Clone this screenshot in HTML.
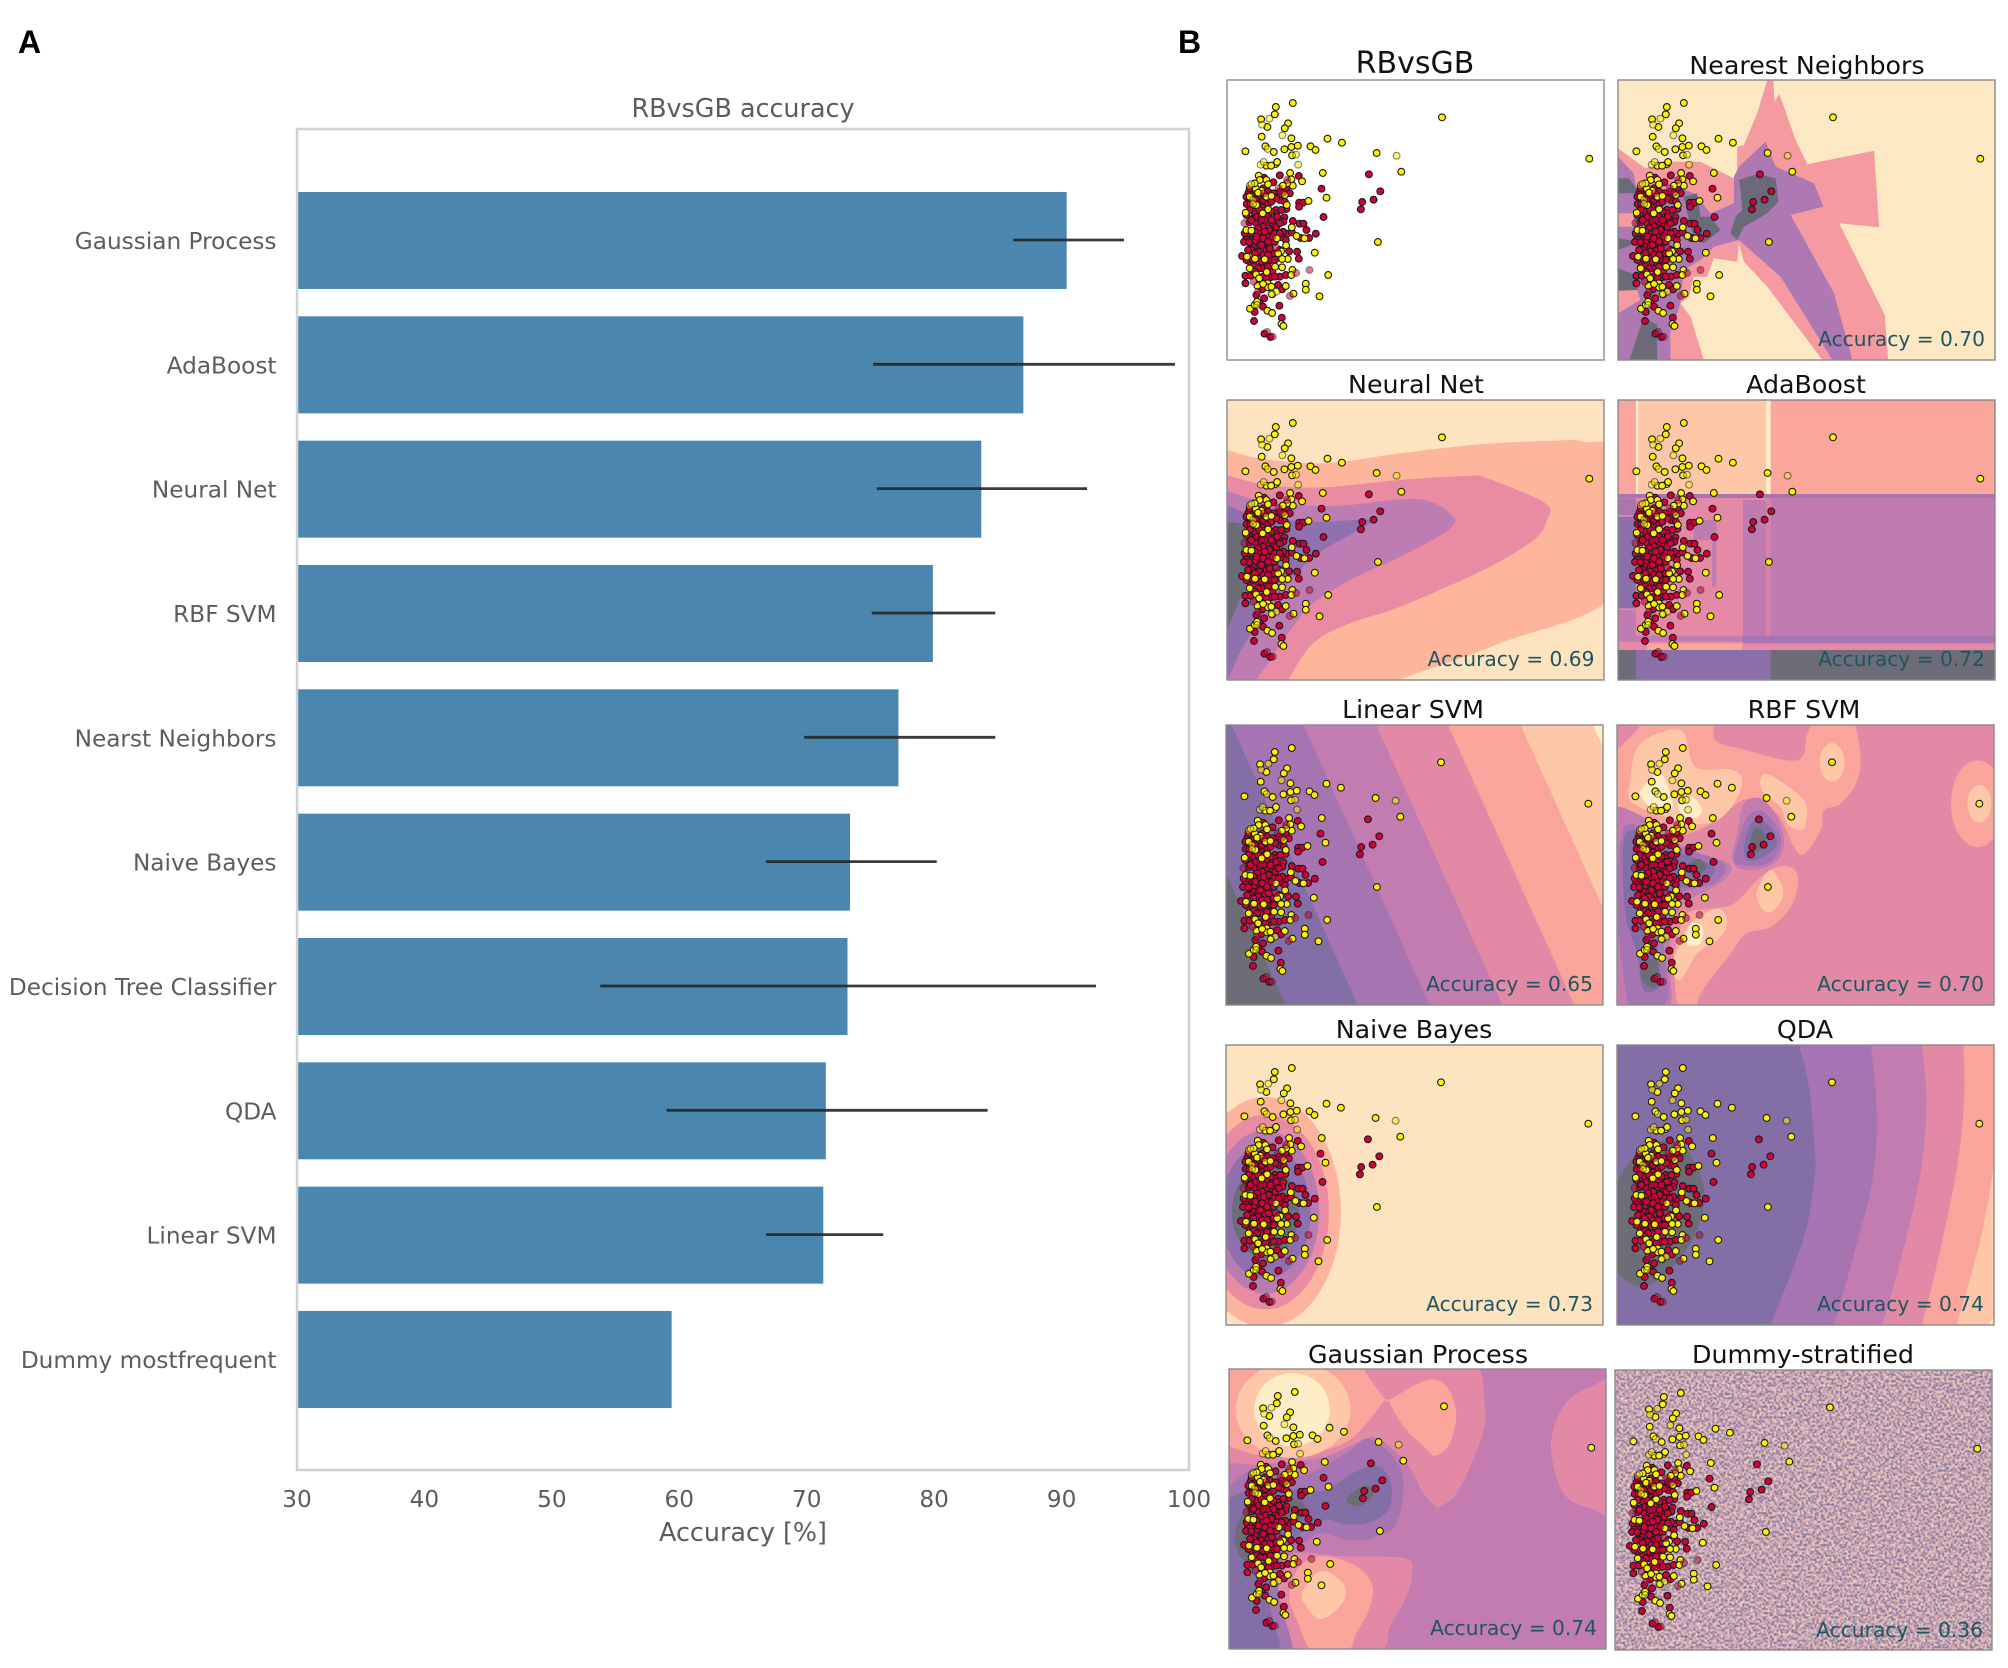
<!DOCTYPE html>
<html lang="en">
<head>
<meta charset="utf-8">
<title>RBvsGB accuracy</title>
<style>
html,body{margin:0;padding:0;background:#fff;width:2008px;height:1668px;overflow:hidden}
svg{display:block}
text{font-family:"DejaVu Sans","Liberation Sans",sans-serif}
.panel-title{font-size:25.3px;fill:#111;text-anchor:middle}
.acc{font-size:20.2px;fill:#1f5560;text-anchor:end}
.letter{font-family:"Liberation Sans",sans-serif;font-weight:bold;font-size:32px;fill:#000}
</style>
</head>
<body>
<svg xmlns="http://www.w3.org/2000/svg" width="2008" height="1668" viewBox="0 0 2008 1668">
  <defs>
    <filter id="noise" x="0" y="0" width="100%" height="100%" color-interpolation-filters="sRGB">
      <feTurbulence type="fractalNoise" baseFrequency="0.47" numOctaves="2" seed="7"/>
      <feColorMatrix values="2.6 0 0 0 -0.8  2.6 0 0 0 -0.8  2.6 0 0 0 -0.8  0 0 0 0 1"/>
      <feComponentTransfer>
        <feFuncR type="discrete" tableValues="0.46 0.82 0.96"/>
        <feFuncG type="discrete" tableValues="0.44 0.64 0.84"/>
        <feFuncB type="discrete" tableValues="0.60 0.72 0.75"/>
      </feComponentTransfer>
      <feGaussianBlur stdDeviation="0.5"/>
    </filter>
  </defs>
  <rect width="2008" height="1668" fill="#fff"/>
  <text class="letter" x="18" y="53">A</text>
  <text class="letter" x="1178" y="53">B</text>
  <g id="bar-chart">
    <text x="743" y="117" font-size="25.4" fill="#5c5c5c" text-anchor="middle">RBvsGB accuracy</text>
    <text x="743" y="1541" font-size="25.4" fill="#5c5c5c" text-anchor="middle">Accuracy [%]</text>
  </g>
  <g id="panels"></g>
  <g id="panel-text">
    <text class="panel-title" style="font-size:30px" x="1415" y="73">RBvsGB</text>
    <text class="panel-title" x="1807" y="74">Nearest Neighbors</text>
    <text class="panel-title" x="1416" y="393">Neural Net</text>
    <text class="panel-title" x="1806" y="393">AdaBoost</text>
    <text class="panel-title" x="1413" y="718">Linear SVM</text>
    <text class="panel-title" x="1804" y="718">RBF SVM</text>
    <text class="panel-title" x="1414" y="1038">Naive Bayes</text>
    <text class="panel-title" x="1805" y="1038">QDA</text>
    <text class="panel-title" x="1418" y="1363">Gaussian Process</text>
    <text class="panel-title" x="1803" y="1363">Dummy-stratified</text>
    <text class="acc" x="1985" y="346">Accuracy = 0.70</text>
    <text class="acc" x="1594.5" y="666">Accuracy = 0.69</text>
    <text class="acc" x="1985" y="666">Accuracy = 0.72</text>
    <text class="acc" x="1593" y="991">Accuracy = 0.65</text>
    <text class="acc" x="1984" y="991">Accuracy = 0.70</text>
    <text class="acc" x="1593" y="1311">Accuracy = 0.73</text>
    <text class="acc" x="1984" y="1311">Accuracy = 0.74</text>
    <text class="acc" x="1597" y="1635">Accuracy = 0.74</text>
    <text class="acc" x="1983" y="1637">Accuracy = 0.36</text>
  </g>
</svg>
<script>
// ---------- bar chart data ----------
const categories = ["Gaussian Process","AdaBoost","Neural Net","RBF SVM","Nearst Neighbors","Naive Bayes","Decision Tree Classifier","QDA","Linear SVM","Dummy mostfrequent"];
const accuracy = [90.4,87.0,83.7,79.9,77.2,73.4,73.2,71.5,71.3,59.4];
const errLow = [86.2,75.2,75.5,75.1,69.8,66.8,53.8,59.0,66.8,null];
const errHigh = [94.9,98.9,92.0,84.8,84.8,80.2,92.7,84.2,76.0,null];
const xTicks = [30,40,50,60,70,80,90,100];

// ---------- scatter data (feature units) ----------
const yellowPts = [[279,249],[228,261],[225,283],[184,298],[265,310],[203,321],[255,325],[186,350],[275,355],[383,356],[426,368],[197,379],[275,381],[294,377],[332,379],[347,390],[254,388],[222,396],[137,394],[277,406],[726,292],[1167,416],[530,399],[604,455],[369,459],[271,459],[380,533],[326,543],[228,432],[232,426],[200,437],[214,437],[307,484],[275,478],[279,497],[262,490],[249,497],[177,467],[180,480],[200,480],[168,505],[205,493],[261,555],[205,568],[138,578],[276,622],[534,666],[345,698],[385,765],[318,791],[318,809],[359,829],[281,821],[247,742],[264,717],[247,717],[290,648],[314,655],[259,676],[244,694],[231,655],[140,630],[155,632],[166,716],[142,710],[195,718],[226,740],[278,750],[275,765],[201,756],[258,798],[169,763],[178,775],[173,797],[204,790],[205,802],[217,823],[151,866],[165,855],[172,845],[203,872],[217,879],[245,912],[251,918],[189,580],[170,555],[200,530],[165,490],[185,512],[150,530],[215,528],[255,525],[175,518],[235,700],[150,745],[215,800],[190,792]];
const redPts = [[240,466],[297,468],[221,487],[193,473],[365,506],[507,463],[541,514],[521,539],[487,546],[483,568],[371,591],[298,548],[310,548],[298,560],[146,518],[158,525],[175,528],[190,505],[205,515],[222,520],[260,505],[141,552],[152,552],[164,575],[175,545],[190,540],[205,553],[215,545],[240,540],[228,570],[228,580],[190,562],[260,567],[160,595],[149,607],[172,590],[185,585],[205,585],[232,590],[254,592],[251,605],[279,603],[299,611],[311,611],[320,630],[348,641],[328,654],[302,654],[262,641],[276,637],[246,652],[258,660],[170,610],[185,610],[205,607],[222,611],[190,620],[210,630],[175,625],[230,620],[185,640],[200,648],[180,655],[165,665],[150,650],[140,654],[133,666],[195,670],[214,669],[220,650],[175,680],[160,680],[155,690],[178,695],[200,690],[190,705],[127,708],[150,725],[163,735],[175,715],[185,725],[215,720],[200,730],[186,745],[218,755],[212,772],[137,767],[153,767],[137,790],[240,770],[258,765],[235,795],[247,808],[292,695],[297,716],[268,694],[187,808],[193,835],[180,850],[190,860],[239,857],[165,876],[163,903],[246,893],[194,941],[212,951],[165,510],[140,530],[168,540],[198,530],[230,535],[150,570],[178,570],[198,570],[215,575],[140,585],[155,600],[195,600],[215,600],[165,635],[195,635],[225,640],[155,640],[170,650],[190,655],[205,665],[225,665],[150,668],[185,675],[210,685],[145,690],[165,700],[205,705],[225,700],[140,720],[160,720],[205,740],[175,745],[165,755],[190,770],[225,770],[200,775],[180,790],[225,720],[240,690],[250,635],[240,610],[245,570],[255,545],[150,505],[240,515],[270,520],[240,640],[170,825],[145,640],[135,640]];
const fadedYellowPts = [[209,296],[187,314],[248,346],[204,387],[289,404],[295,434],[183,434],[192,426],[590,407],[150,497],[155,492],[160,540],[160,552],[230,815],[215,822],[172,855]];
const fadedRedPts = [[134,609],[262,480],[237,505],[250,518],[329,750],[289,759],[162,785],[175,815],[270,828],[202,936],[219,950],[148,665],[218,650],[232,685],[185,600],[192,520]];

// ---------- decision surface contours (feature units, one origin per panel) ----------
const knnPink = [[[53,385],[135,445],[210,425],[300,425],[410,480],[410,380],[430,375],[470,280],[500,180],[518,182],[522,245],[536,222],[585,360],[620,433],[820,392],[835,622],[715,610],[852,885],[862,1020],[665,1020],[500,800],[430,725],[415,670],[410,725],[340,715],[320,770],[280,770],[265,830],[240,850],[270,890],[310,1020],[53,1020]]];
const knnPurple = [[[53,410],[100,460],[110,520],[110,570],[230,500],[280,520],[330,580],[400,550],[400,470],[415,440],[495,365],[525,440],[640,490],[668,560],[570,585],[700,820],[755,1020],[695,1020],[540,770],[415,660],[340,680],[300,720],[250,750],[240,850],[210,940],[210,1020],[53,1020],[53,880],[120,840],[110,810],[53,800],[53,620],[100,620],[100,580],[53,580]]];
const knnGray = [[[415,480],[470,462],[525,475],[533,545],[500,580],[430,620],[410,660],[390,640],[405,590],[425,570],[420,510]],[[53,475],[85,475],[120,520],[53,520]],[[250,530],[290,520],[300,590],[330,590],[360,630],[310,670],[280,650],[265,600]],[[53,655],[120,665],[53,690]],[[53,745],[120,770],[110,810],[53,812]],[[130,890],[170,915],[170,1020],[87,1020],[110,950]]];

const netLevel1 = [[40,235],[82,240],[180,265],[370,280],[600,250],[850,222],[1060,212],[1150,215],[1250,265],[1250,660],[900,820],[595,930],[500,975],[40,975]];
const netLevel2 = [[40,310],[82,316],[200,345],[370,352],[600,330],[800,318],[860,325],[1035,400],[1040,450],[1000,510],[850,600],[600,710],[450,760],[340,820],[265,930],[230,985],[40,985]];
const netLevel3 = [[40,352],[82,363],[200,395],[400,408],[650,387],[755,435],[745,480],[600,560],[450,630],[340,700],[280,770],[170,930],[130,985],[40,985]];
const netLevel4 = [[40,392],[82,405],[180,440],[350,455],[510,450],[460,490],[370,540],[300,600],[200,720],[130,830],[82,930],[40,1000]];
const netLevel5 = [[40,450],[82,455],[135,465],[250,520],[250,560],[150,640],[82,780],[40,860]];

const adaPeach = [[110,90,510,372]];
const adaCream = [[107,90,113,372],[497,90,510,372]];
const adaPink = [[53,372,1183,840]];
const adaMauve = [[510,372,1183,800],[427,390,497,800],[280,450,345,510],[335,460,348,650],[53,720,107,797],[53,797,427,815]];
const adaPurpleLight = [[53,385,107,435],[53,372,1183,384],[427,797,1183,820]];
const adaPurpleDark = [[53,440,107,715],[107,840,510,930]];
const adaPinkStripe = [[497,384,510,797]];
const adaSalmon = [[140,820,425,840]];
const adaGray = [[53,840,107,930],[510,840,1183,930]];

const linearTopCrossings = [-122,95,310,528,743,960,1177];
const linearBottomShift = [378];

const rbfSalmon = [[[10,200],[110,90],[140,40],[320,40],[345,120],[420,145],[590,180],[620,100],[660,40],[745,40],[778,150],[770,240],[720,310],[670,330],[660,390],[610,462],[580,440],[530,340],[450,295],[380,330],[330,370],[240,400],[110,340],[10,300]],[[240,950],[220,800],[230,720],[260,640],[330,625],[400,610],[470,540],[530,500],[580,505],[592,550],[570,620],[510,680],[435,700],[390,760],[300,880],[285,950]]];
const rbfPeach = [[[90,240],[120,130],[240,90],[285,200],[390,207],[425,240],[400,310],[340,365],[250,365],[100,310]],[[480,235],[510,225],[610,300],[615,370],[600,390],[560,370],[540,320],[490,280]],[[235,740],[270,670],[350,625],[380,660],[360,710],[290,760],[240,840],[215,800]],[[470,570],[510,510],[548,570],[530,620],[500,636],[475,610]]];
const rbfCream = [[[120,270],[180,220],[215,300],[210,325],[150,320],[125,290]],[[235,310],[275,290],[305,330],[280,355],[245,340]],[[270,670],[305,680],[300,730],[260,730]]];
const rbfMauve = [[[10,350],[150,360],[250,440],[385,490],[370,540],[300,580],[240,620],[210,700],[210,800],[200,950],[70,950],[10,770]],[[430,310],[480,295],[530,350],[550,430],[520,490],[440,510],[395,480],[410,400]]];
const rbfPurple = [[[65,400],[110,375],[240,440],[370,490],[340,550],[250,575],[225,640],[190,720],[200,900],[100,950],[60,750],[50,600]],[[480,330],[530,380],[540,440],[500,490],[430,495],[400,480],[420,400],[440,350]]];
const rbfDeep = [[[70,420],[120,395],[220,450],[340,500],[300,555],[225,570],[190,650],[170,720],[180,850],[130,870],[110,760],[75,640]],[[470,355],[510,380],[530,430],[490,470],[440,480],[430,440],[445,380]]];
const rbfGray = [[[470,382],[495,405],[485,440],[460,460],[450,440],[455,400]],[[255,500],[295,475],[318,500],[295,520],[265,520]],[[125,790],[170,780],[165,860],[125,840]]];
const rbfPeaks = [[1130,310,80,130]];
const rbfPeakCaps = [[1135,310,36,56],[694,186,37,58]];

const nbCenter = [196,575];
const nbRadiiX = [226,190,161,135,100];
const nbRadiiY = [345,292,245,200,140];

const qdaCurve1 = [[585,40],[595,74],[625,200],[643,400],[640,480],[610,650],[510,914],[495,950]];
const qdaCurve2 = [[800,40],[810,74],[828,280],[815,480],[760,700],[700,914],[690,950]];
const qdaCurve3 = [[955,40],[963,74],[977,250],[960,450],[910,680],[845,914],[835,950]];
const qdaCurve4 = [[1080,40],[1087,74],[1090,230],[1070,430],[1020,680],[963,914],[950,950]];
const qdaCurve5 = [[1200,340],[1179,440],[1140,650],[1068,914],[1055,950]];
const qdaCurve6 = [[1220,840],[1179,890],[1165,914],[1140,950]];
const qdaGray = [[10,500],[50,480],[100,410],[190,360],[260,390],[310,500],[300,600],[250,700],[170,780],[110,798],[50,760],[10,740]];

const gpPink = [[[40,40],[300,40],[600,40],[810,40],[855,210],[835,320],[770,460],[712,505],[712,505],[670,460],[620,370],[530,295],[470,310],[380,350],[280,365],[170,375],[88,370],[40,370]],[[1052,320],[1090,200],[1170,142],[1260,145],[1260,505],[1170,505],[1090,460]],[[232,800],[240,680],[300,640],[430,650],[610,655],[637,690],[620,770],[570,860],[530,935],[262,935],[240,870]]];
const gpSalmon = [[[40,40],[250,40],[470,40],[495,95],[555,180],[555,180],[500,250],[450,300],[380,330],[270,345],[170,345],[88,320],[40,310]],[[565,182],[565,182],[680,122],[740,140],[768,220],[750,310],[705,348],[670,320],[610,260]],[[268,770],[300,680],[370,650],[470,680],[518,740],[505,815],[470,880],[440,935],[340,935],[295,850]]];
const gpPeach = [[[307,760],[360,695],[420,720],[437,770],[400,820],[355,837],[320,800]]];
const gpPurple = [[[40,460],[88,440],[180,380],[300,410],[440,340],[500,297],[570,340],[610,420],[590,550],[520,595],[440,600],[370,580],[310,610],[240,680],[240,780],[270,970],[40,970]]];
const gpDeep = [[[40,490],[88,475],[180,440],[300,450],[380,450],[460,400],[530,378],[570,420],[570,500],[520,545],[440,555],[380,540],[320,570],[260,620],[220,690],[210,790],[235,970],[40,970]]];
const gpGray = [[[445,470],[490,438],[520,450],[510,480],[475,500],[445,490]],[[107,580],[130,520],[170,470],[270,470],[325,510],[300,540],[240,570],[195,640],[140,665],[112,630]]];
const gpPeakOuter = [280,210,172,145];
const gpPeakInner = [277,210,113,110];

// ---------- helpers ----------
const NS = 'http://www.w3.org/2000/svg';
function mk(tag, parent, attrs) {
  const el = document.createElementNS(NS, tag);
  for (const k in attrs) el.setAttribute(k, attrs[k]);
  parent.appendChild(el);
  return el;
}

// ---------- bar chart ----------
const plotL = 297, plotR = 1189, plotT = 129, plotB = 1470;
const xScale = v => plotL + (v - 30) / (100 - 30) * (plotR - plotL);
const bandCenter = i => 240.5 + 124.33 * i;
const barH = 97;
const chart = document.getElementById('bar-chart');

categories.forEach((c, i) => {
  const bar = mk('rect', chart, {x: xScale(30), y: bandCenter(i) - barH / 2, width: xScale(accuracy[i]) - xScale(30), height: barH, fill: '#4a86ad'});
  
  
  const t = mk('text', chart, {x: 276.5, y: bandCenter(i) + 8.5, 'font-size': 23.2, fill: '#5c5c5c', 'text-anchor': 'end'});
  t.textContent = c;
  
  
});
categories.forEach((c, i) => {
  if (errLow[i] === null) return;
  const line = mk('line', chart, {x1: xScale(errLow[i]), x2: xScale(errHigh[i]), y1: bandCenter(i) - 0.5, y2: bandCenter(i) - 0.5, stroke: '#262626', 'stroke-width': 2.8, 'stroke-opacity': 0.9});
  
  
});
const frame = mk('rect', chart, {x: plotL, y: plotT, width: plotR - plotL, height: plotB - plotT, fill: 'none', stroke: '#d2d2d2', 'stroke-width': 2.6});


xTicks.forEach(v => {
  const t = mk('text', chart, {x: xScale(v), y: 1507, 'font-size': 23.2, fill: '#5c5c5c', 'text-anchor': 'middle'});
  t.textContent = v;
  
  
});

// ---------- panels ----------
const PW = 377, PH = 280, ZW = 1129, ZH = 840;
const featX = v => (v - 82) / ZW * PW;
const featY = v => (v - 180) / ZH * PH;
const panelsRoot = document.getElementById('panels');

function openPanel(name, left, top, ox, oy, bg) {
  const g = mk('g', panelsRoot, {transform: 'translate(' + left + ' ' + top + ')'});
  
  
  const clip = mk('clipPath', g, {id: 'clip-' + name});
  mk('rect', clip, {x: 0, y: 0, width: PW, height: PH});
  const surf = mk('g', g, {'clip-path': 'url(#clip-' + name + ')'});
  
  
  if (bg) mk('rect', surf, {x: 0, y: 0, width: PW, height: PH, fill: bg});
  return {g: g, surf: surf, sx: v => (v - ox) / ZW * PW, sy: v => (v - oy) / ZH * PH};
}
function polyPath(p, pts, smooth) {
  const q = pts.map(a => [p.sx(a[0]), p.sy(a[1])]);
  let d = 'M' + q[0][0].toFixed(1) + ' ' + q[0][1].toFixed(1);
  const n = q.length;
  for (let i = 0; i < n; i++) {
    const p0 = q[(i - 1 + n) % n], p1 = q[i], p2 = q[(i + 1) % n], p3 = q[(i + 2) % n];
    if (smooth) {
      d += 'C' + (p1[0] + (p2[0] - p0[0]) / 6).toFixed(1) + ' ' + (p1[1] + (p2[1] - p0[1]) / 6).toFixed(1) + ' ' +
           (p2[0] - (p3[0] - p1[0]) / 6).toFixed(1) + ' ' + (p2[1] - (p3[1] - p1[1]) / 6).toFixed(1) + ' ' +
           p2[0].toFixed(1) + ' ' + p2[1].toFixed(1);
    } else {
      d += 'L' + p2[0].toFixed(1) + ' ' + p2[1].toFixed(1);
    }
  }
  return d + 'Z';
}
function layer(p, polys, color, smooth) {
  polys.forEach(pts => {
    const el = mk('path', p.surf, {d: polyPath(p, pts, smooth), fill: color});
    
    
  });
}
// Fill everything to the right of an open, smoothly interpolated boundary curve.
function rightOfCurve(p, curve, color) {
  const q = curve.map(a => [p.sx(a[0]), p.sy(a[1])]);
  let d = 'M' + q[0][0].toFixed(1) + ' ' + q[0][1].toFixed(1);
  for (let i = 0; i < q.length - 1; i++) {
    const p0 = q[Math.max(i - 1, 0)], p1 = q[i], p2 = q[i + 1], p3 = q[Math.min(i + 2, q.length - 1)];
    d += 'C' + (p1[0] + (p2[0] - p0[0]) / 6).toFixed(1) + ' ' + (p1[1] + (p2[1] - p0[1]) / 6).toFixed(1) + ' ' +
         (p2[0] - (p3[0] - p1[0]) / 6).toFixed(1) + ' ' + (p2[1] - (p3[1] - p1[1]) / 6).toFixed(1) + ' ' +
         p2[0].toFixed(1) + ' ' + p2[1].toFixed(1);
  }
  d += 'L' + (PW + 60) + ' ' + q[q.length - 1][1].toFixed(1) + 'L' + (PW + 60) + ' ' + q[0][1].toFixed(1) + 'Z';
  const el = mk('path', p.surf, {d: d, fill: color});
  
  
}
function rects(p, list, color) {
  list.forEach(r => {
    const el = mk('rect', p.surf, {x: p.sx(r[0]), y: p.sy(r[1]), width: p.sx(r[2]) - p.sx(r[0]), height: p.sy(r[3]) - p.sy(r[1]), fill: color});
    
    
  });
}
function ell(p, e, color) {
  const el = mk('ellipse', p.surf, {cx: p.sx(e[0]), cy: p.sy(e[1]), rx: e[2] / ZW * PW, ry: e[3] / ZH * PH, fill: color});
  
  
}
function dots(p, pts, color, opacity, label) {
  pts.forEach(a => {
    const c = mk('circle', p.g, {cx: featX(a[0]).toFixed(1), cy: featY(a[1]).toFixed(1), r: 3.4, fill: color, stroke: '#1a1a1a', 'stroke-width': 1.1, opacity: opacity});
    
    
  });
}
function closePanel(p) {
  dots(p, redPts, '#d4003a', 1, 'train-point-red');
  dots(p, yellowPts, '#fff200', 1, 'train-point-yellow');
  dots(p, fadedRedPts, '#d4003a', 0.55, 'test-point-red');
  dots(p, fadedYellowPts, '#fff200', 0.55, 'test-point-yellow');
  const f = mk('rect', p.g, {x: 0, y: 0, width: PW, height: PH, fill: 'none', stroke: '#8a8a8a', 'stroke-width': 1.4});
  
  
}

const C = {gray:'#6d6d78', deep:'#836fa6', purple:'#a675b1', mauve:'#c27caf', pink:'#e28aa5', salmon:'#f9a59b', peach:'#fec7a8', cream:'#fdeec8'};

let p;
p = openPanel('rbvsgb', 1227, 80, 82, 180, '#fff');
closePanel(p);

p = openPanel('nearest-neighbors', 1618, 80, 53, 180, '#fde8c4');
layer(p, knnPink, '#f59aa0', false);
layer(p, knnPurple, '#ae78b3', false);
layer(p, knnGray, '#6b6a78', false);
closePanel(p);

p = openPanel('neural-net', 1227, 400, 82, 90, '#fee3c0');
layer(p, [netLevel1], '#fdb59c', true);
layer(p, [netLevel2], '#e98ba3', true);
layer(p, [netLevel3], '#bd7db2', true);
layer(p, [netLevel4], '#9170b0', true);
layer(p, [netLevel5], '#6d6d78', true);
closePanel(p);

p = openPanel('adaboost', 1618, 400, 53, 90, '#fba69c');
rects(p, adaPeach, C.peach);
rects(p, adaCream, C.cream);
rects(p, adaPink, '#e48aa6');
rects(p, adaMauve, '#c07cb0');
rects(p, adaPurpleLight, '#a875b0');
rects(p, adaPurpleDark, '#8a6fa8');
rects(p, adaPinkStripe, '#d683aa');
rects(p, adaSalmon, '#fba69c');
rects(p, adaGray, C.gray);
closePanel(p);

p = openPanel('linear-svm', 1226, 725, 78, 74, C.gray);
const linearColors = [C.deep, C.purple, C.mauve, C.pink, C.salmon, C.peach, C.cream];
linearTopCrossings.forEach((x, i) => {
  layer(p, [[[x,74],[1400,74],[1400,914],[x + linearBottomShift[0],914]]], linearColors[i], false);
});
closePanel(p);

p = openPanel('rbf-svm', 1617, 725, 50, 74, C.pink);
layer(p, rbfSalmon, C.salmon, true);
rbfPeaks.forEach(e => ell(p, e, C.salmon));
layer(p, rbfPeach, C.peach, true);
rbfPeakCaps.forEach(e => ell(p, e, C.peach));
layer(p, rbfCream, C.cream, true);
layer(p, rbfMauve, C.mauve, true);
layer(p, rbfPurple, C.purple, true);
layer(p, rbfDeep, C.deep, true);
layer(p, rbfGray, C.gray, true);
closePanel(p);

p = openPanel('naive-bayes', 1226, 1045, 78, 74, '#fee3c0');
const nbColors = ['#fdb49c','#e98ba3','#b87cb0','#8f6fae','#6d6d78'];
nbRadiiX.forEach((rx, i) => ell(p, [nbCenter[0], nbCenter[1], rx, nbRadiiY[i]], nbColors[i]));
closePanel(p);

p = openPanel('qda', 1617, 1045, 50, 74, C.deep);
rightOfCurve(p, qdaCurve1, C.purple);
rightOfCurve(p, qdaCurve2, C.mauve);
rightOfCurve(p, qdaCurve3, C.pink);
rightOfCurve(p, qdaCurve4, C.salmon);
rightOfCurve(p, qdaCurve5, C.peach);
rightOfCurve(p, qdaCurve6, C.cream);
layer(p, [qdaGray], C.gray, true);
closePanel(p);

p = openPanel('gaussian-process', 1229, 1369, 88, 88, C.mauve);
layer(p, gpPink, C.pink, true);
layer(p, gpSalmon, C.salmon, true);
layer(p, gpPeach, C.peach, true);
ell(p, gpPeakOuter, C.peach);
ell(p, gpPeakInner, C.cream);
layer(p, gpPurple, C.purple, true);
layer(p, gpDeep, C.deep, true);
layer(p, gpGray, C.gray, true);
closePanel(p);

p = openPanel('dummy-stratified', 1615, 1370, 46, 91, '#d6b0bc');
const noiseRect = mk('rect', p.surf, {x: 0, y: 0, width: PW, height: PH, fill: '#000', filter: 'url(#noise)'});


closePanel(p);
</script>
</body>
</html>
